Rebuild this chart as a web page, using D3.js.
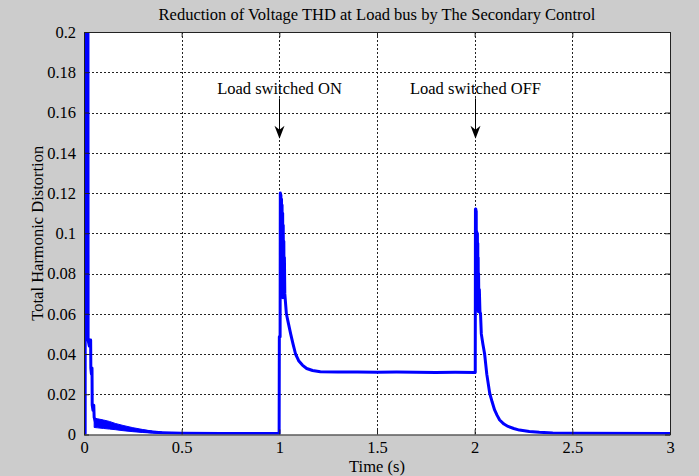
<!DOCTYPE html>
<html><head><meta charset="utf-8">
<script src="https://cdn.jsdelivr.net/npm/d3@7"></script>
<style>html,body{margin:0;padding:0;background:#cccccc;}svg{display:block;}</style>
</head><body>
<svg id="chart" width="699" height="476"></svg>
<script>
// ---- data ----
const titleText = "Reduction of Voltage THD at Load bus by The Secondary Control";
const xLabel = "Time (s)";
const yLabel = "Total Harmonic Distortion";
const xTicks = [0, 0.5, 1, 1.5, 2, 2.5, 3];
const xTickLabels = ["0", "0.5", "1", "1.5", "2", "2.5", "3"];
const yTicks = [0, 0.02, 0.04, 0.06, 0.08, 0.1, 0.12, 0.14, 0.16, 0.18, 0.2];
const yTickLabels = ["0", "0.02", "0.04", "0.06", "0.08", "0.1", "0.12", "0.14", "0.16", "0.18", "0.2"];

const time = [0, 0.006, 0.0065, 0.009, 0.012, 0.016, 0.02, 0.021, 0.027, 0.030, 0.034, 0.035, 0.038, 0.041, 0.042, 0.046, 0.050, 0.052,
  0.06, 0.08, 0.10, 0.13, 0.16, 0.20, 0.25, 0.30, 0.35, 0.40, 0.45, 0.50, 0.70, 0.999,
  1.0, 1.004, 1.005, 1.0065, 1.008, 1.0095, 1.011, 1.0125, 1.014, 1.0155, 1.017, 1.0185, 1.020, 1.0215, 1.023, 1.0245, 1.026, 1.028, 1.032, 1.036, 1.047, 1.058, 1.070, 1.083, 1.100, 1.118, 1.140, 1.170, 1.210,
  1.30, 1.40, 1.50, 1.60, 1.70, 1.80, 1.90, 2.003,
  2.004, 2.005, 2.006, 2.007, 2.008, 2.009, 2.010, 2.011, 2.012, 2.013, 2.014, 2.015, 2.016, 2.017, 2.018, 2.019, 2.020, 2.022, 2.024, 2.027, 2.030, 2.034, 2.042, 2.051, 2.062, 2.077, 2.090, 2.102, 2.115, 2.128, 2.150, 2.171, 2.200, 2.229, 2.280, 2.331, 2.40, 2.50, 3.00];
const thd = [0.0005, 0.0005, 0.25, 0.21, 0.25, 0.22, 0.25, 0.047, 0.044, 0.047, 0.047, 0.033, 0.030, 0.033, 0.0146, 0.012, 0.0146, 0.0085,
  0.0058, 0.0056, 0.0052, 0.0047, 0.0040, 0.0032, 0.0024, 0.0017, 0.0012, 0.0009, 0.0007, 0.0006, 0.0005, 0.0005,
  0.0486, 0.0486, 0.120, 0.073, 0.119, 0.071, 0.117, 0.070, 0.114, 0.069, 0.110, 0.068, 0.104, 0.069, 0.096, 0.070, 0.088, 0.070, 0.065, 0.060, 0.055, 0.050, 0.045, 0.040, 0.0365, 0.0345, 0.0328, 0.0318, 0.0312,
  0.0310, 0.0311, 0.0309, 0.0310, 0.0309, 0.0308, 0.0309, 0.0308,
  0.112, 0.066, 0.112, 0.065, 0.111, 0.064, 0.101, 0.064, 0.100, 0.063, 0.100, 0.062, 0.095, 0.062, 0.088, 0.061, 0.080, 0.061, 0.072, 0.061, 0.060, 0.050, 0.045, 0.040, 0.030, 0.0205, 0.016, 0.0122, 0.0095, 0.0072, 0.0052, 0.0040, 0.0030, 0.0022, 0.0015, 0.0011, 0.0008, 0.0006, 0.0005];

// ripple envelope in the start-up transient
const rippleTime = [0.052, 0.07, 0.10, 0.13, 0.16, 0.20, 0.25, 0.30, 0.35, 0.40];
const rippleHigh = [0.0082, 0.0078, 0.0072, 0.0065, 0.0055, 0.0045, 0.0034, 0.0025, 0.0017, 0.0012];
const rippleLow  = [0.0035, 0.0033, 0.0030, 0.0027, 0.0024, 0.0019, 0.0014, 0.0010, 0.0007, 0.0005];

// annotations
const annotTimes = [1, 2];
const annotLabels = ["Load switched ON", "Load switched OFF"];
const annotTextY = 0.172;
const annotArrowFrom = 0.167;
const annotArrowTo = 0.147;

// ---- layout ----
const W = 699, H = 476;
const margin = {left: 84, right: 29, top: 32, bottom: 41.5};
const pw = W - margin.left - margin.right, ph = H - margin.top - margin.bottom;
const font = "'Liberation Serif','Times New Roman',serif";
const fs = "16.5px";

const svg = d3.select("#chart");
const x = d3.scaleLinear().domain([0, 3]).range([0, pw]);
const y = d3.scaleLinear().domain([0, 0.2]).range([ph, 0]);

const g = svg.append("g").attr("transform", `translate(${margin.left},${margin.top})`);
g.append("rect").attr("width", pw).attr("height", ph).attr("fill", "#fff");

// grid
const gridStyle = s => s.attr("stroke", "#222").attr("stroke-width", 1).attr("stroke-dasharray", "2,2");
g.append("g").selectAll("line").data(xTicks.slice(1, -1)).join("line")
  .attr("x1", d => Math.round(x(d)) + 0.5).attr("x2", d => Math.round(x(d)) + 0.5)
  .attr("y1", 0).attr("y2", ph).call(gridStyle);
g.append("g").selectAll("line").data(yTicks.slice(1, -1)).join("line")
  .attr("y1", d => Math.round(y(d)) + 0.5).attr("y2", d => Math.round(y(d)) + 0.5)
  .attr("x1", 0).attr("x2", pw).call(gridStyle);

// clip
svg.append("defs").append("clipPath").attr("id", "clip")
  .append("rect").attr("width", pw).attr("height", ph);
const plot = g.append("g").attr("clip-path", "url(#clip)");

const rippleData = rippleTime.map((t, i) => ({t, hi: rippleHigh[i], lo: rippleLow[i]}));
plot.append("path").datum(rippleData)
  .attr("d", d3.area().x(d => x(d.t)).y0(d => y(d.lo)).y1(d => y(d.hi)))
  .attr("fill", "#0000ff").attr("stroke", "#0000ff").attr("stroke-width", 1);

const series = time.map((t, i) => ({t, v: thd[i]}));
plot.append("path").datum(series)
  .attr("d", d3.line().x(d => x(d.t)).y(d => y(d.v)))
  .attr("fill", "none").attr("stroke", "#0000ff").attr("stroke-width", 3).attr("stroke-linejoin", "round");

// axes (MATLAB box with inward ticks)
const xAxisB = d3.axisBottom(x).tickValues(xTicks).tickSizeInner(-5).tickSizeOuter(0).tickPadding(7)
  .tickFormat((d, i) => xTickLabels[i]);
const xAxisT = d3.axisTop(x).tickValues(xTicks).tickSizeInner(-5).tickSizeOuter(0).tickFormat("");
const yAxisL = d3.axisLeft(y).tickValues(yTicks).tickSizeInner(-5).tickSizeOuter(0).tickPadding(8)
  .tickFormat((d, i) => yTickLabels[i]);
const yAxisR = d3.axisRight(y).tickValues(yTicks).tickSizeInner(-5).tickSizeOuter(0).tickFormat("");

const styleAxis = a => {
  a.selectAll("path").attr("stroke", "#222");
  a.selectAll("line").attr("stroke", "#222");
  a.selectAll("text").attr("fill", "#000").style("font-family", font).style("font-size", fs);
};
g.append("g").attr("transform", `translate(0,${ph})`).call(xAxisB).call(styleAxis);
g.append("g").call(xAxisT).call(styleAxis);
g.append("g").call(yAxisL).call(styleAxis);
g.append("g").attr("transform", `translate(${pw},0)`).call(yAxisR).call(styleAxis);

// titles
svg.append("text").attr("x", margin.left + pw / 2).attr("y", 20).attr("text-anchor", "middle")
  .style("font-family", font).style("font-size", fs).text(titleText);
svg.append("text").attr("x", margin.left + pw / 2).attr("y", 472).attr("text-anchor", "middle")
  .style("font-family", font).style("font-size", fs).text(xLabel);
svg.append("text").attr("transform", `translate(43,${margin.top + ph / 2}) rotate(-90)`).attr("text-anchor", "middle")
  .style("font-family", font).style("font-size", fs).text(yLabel);

// annotations
annotTimes.forEach((t, i) => {
  const ax = Math.round(x(t)) + 0.5;
  g.append("text").attr("x", ax).attr("y", y(annotTextY) + 6).attr("text-anchor", "middle")
    .style("font-family", font).style("font-size", fs).text(annotLabels[i]);
  const y0 = y(annotArrowFrom), y1 = y(annotArrowTo);
  g.append("line").attr("x1", ax).attr("x2", ax).attr("y1", y0).attr("y2", y1 - 8)
    .attr("stroke", "#000").attr("stroke-width", 1);
  g.append("path").attr("d", `M${ax},${y1} L${ax - 5},${y1 - 13} L${ax},${y1 - 9} L${ax + 5},${y1 - 13} Z`)
    .attr("fill", "#000");
});
</script>
</body></html>
